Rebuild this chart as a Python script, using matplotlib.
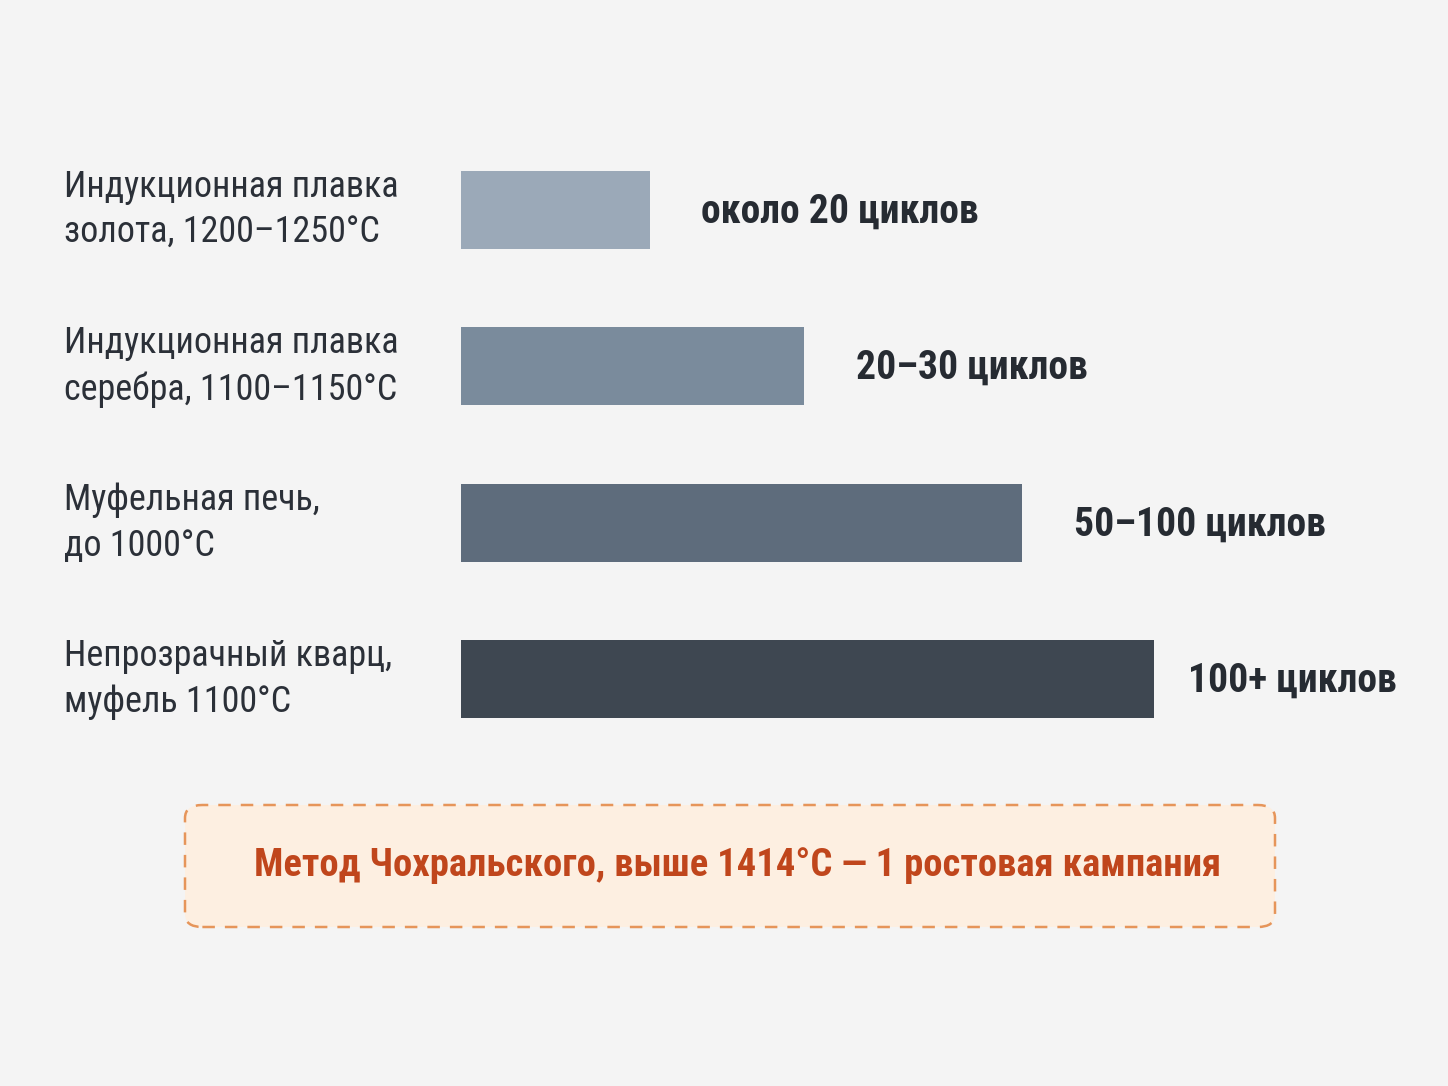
import matplotlib
matplotlib.use('Agg')
import matplotlib.pyplot as plt
from matplotlib.patches import FancyBboxPatch
from matplotlib import font_manager
import matplotlib.transforms as mtransforms

# data
categories = [
    "Индукционная плавка\nзолота, 1200–1250°C",
    "Индукционная плавка\nсеребра, 1100–1150°C",
    "Муфельная печь,\nдо 1000°C",
    "Непрозрачный кварц,\nмуфель 1100°C",
]
rel_length = [27.3, 49.5, 81, 100]
value_labels = ["около 20 циклов", "20–30 циклов", "50–100 циклов", "100+ циклов"]
bar_colors = ["#9ba9b8", "#7a8b9c", "#5e6c7c", "#3e4751"]
note_text = "Метод Чохральского, выше 1414°C — 1 ростовая кампания"

names = {f.name for f in font_manager.fontManager.ttflist}
fam = [f for f in ["Roboto Condensed", "Liberation Sans Narrow", "Roboto", "DejaVu Sans"] if f in names]
plt.rcParams['font.family'] = fam

W, H = 1448, 1086
bg = "#f4f4f4"
fig = plt.figure(figsize=(W / 100, H / 100), dpi=100, facecolor=bg)

# axes: x 0..100 -> 461..1154 px, rows centred at 210..679 px
top, bottom = 132, 757
ax = fig.add_axes([461 / W, 1 - bottom / H, 693 / W, (bottom - top) / H])
ax.set_facecolor("none")
ypos = list(range(len(categories)))
ax.barh(ypos, rel_length, height=0.5, color=bar_colors)
ax.set_xlim(0, 100)
ax.set_ylim(len(categories) - 0.5, -0.5)
ax.axis("off")

lab_tr = mtransforms.blended_transform_factory(fig.transFigure, ax.transData)
pads = [51, 52, 52, 34]
for i, (cat, v, lab) in enumerate(zip(categories, rel_length, value_labels)):
    ax.text(64 / W, i, cat, transform=lab_tr, ha="left", va="center",
            fontsize=26, color="#2b3038", linespacing=1.36)
    ax.annotate(lab, xy=(v, i + 0.01), xytext=(pads[i] * 0.72, 0), textcoords="offset points",
                ha="left", va="center", fontsize=28.5, fontweight="bold", color="#262b32",
                annotation_clip=False)

# note box
bx0, bx1, by0, by1 = 185, 1275, 805, 927
box = FancyBboxPatch((bx0 / W, 1 - by1 / H), (bx1 - bx0) / W, (by1 - by0) / H,
                     boxstyle="round,pad=0,rounding_size=0.012",
                     transform=fig.transFigure, facecolor="#fdefe1",
                     edgecolor="#e6955a", linewidth=1.8, linestyle=(0, (5, 4)))
fig.patches.append(box)
fig.text(738 / W, 1 - 866 / H, note_text, ha="center", va="center",
         fontsize=27.8, color="#c0461c", fontweight="bold")

fig.savefig("out.png", dpi=100, facecolor=bg)
